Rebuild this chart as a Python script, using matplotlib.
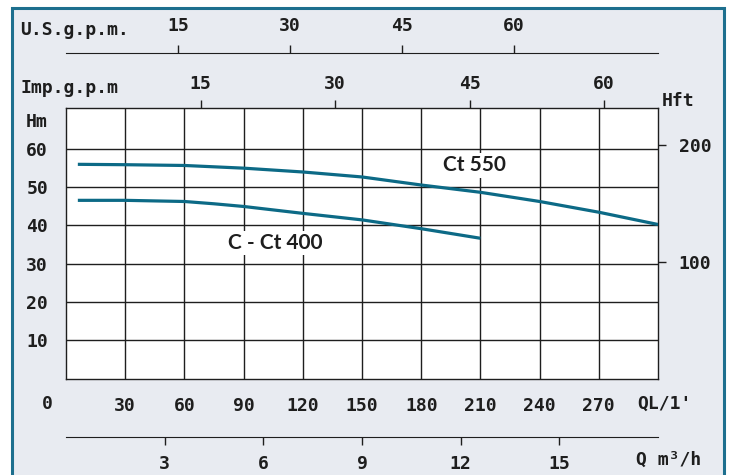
import matplotlib
matplotlib.use('Agg')
import matplotlib.pyplot as plt
from matplotlib.patches import Rectangle

# pump curves, Q in L/min, H in m
q_550 = [6, 30, 60, 90, 120, 150, 180, 210, 240, 270, 300]
h_550 = [55.9, 55.8, 55.6, 54.9, 53.9, 52.6, 50.5, 48.6, 46.2, 43.4, 40.2]
q_400 = [6, 30, 60, 75, 90, 120, 150, 180, 210]
h_400 = [46.5, 46.5, 46.2, 45.6, 44.9, 43.1, 41.4, 39.1, 36.6]

q_ticks = [30, 60, 90, 120, 150, 180, 210, 240, 270]
h_ticks = [10, 20, 30, 40, 50, 60]
usgpm_ticks = [15, 30, 45, 60]
impgpm_ticks = [15, 30, 45, 60]
m3h_ticks = [3, 6, 9, 12, 15]
hft_ticks = [100, 200]

W, H = 734, 475
mono = 'DejaVu Sans Mono'
ink = '#1e1e1e'
curve_col = '#0c6a86'
fs = 13
plt.rcParams['font.family'] = mono
plt.rcParams['font.weight'] = 'bold'

fig = plt.figure(figsize=(W / 100, H / 100), dpi=100, facecolor='white')
frame = Rectangle((12 / W, -0.05), 712 / W, 1.05 - 8 / H, transform=fig.transFigure,
                  facecolor='#e8ebf1', edgecolor='#1d6f8e', lw=2.2, zorder=-5)
fig.add_artist(frame)

def px(x, y):
    return x / W, 1 - y / H

l, t, r, b = 66, 108, 658, 378.5
ax = fig.add_axes([l / W, 1 - b / H, (r - l) / W, (b - t) / H])
ax.set_facecolor('white')
ax.set_xlim(0, 300)
ax.set_ylim(0, 70.6)

ax.plot(q_550, h_550, color=curve_col, lw=2.3, solid_capstyle='butt', zorder=3)
ax.plot(q_400, h_400, color=curve_col, lw=2.3, solid_capstyle='butt', zorder=3)
box = dict(facecolor='white', edgecolor='none', pad=1.5)
ax.text(207, 55.6, 'Ct 550', family='Lato', weight='bold', fontsize=15, color=ink,
        ha='center', va='center', bbox=box, zorder=4)
ax.text(106, 35.3, 'C - Ct 400', family='Lato', weight='bold', fontsize=15, color=ink,
        ha='center', va='center', bbox=box, zorder=4)

for q in range(30, 300, 30):
    ax.axvline(q, color=ink, lw=1.0, zorder=1)
for h in range(10, 70, 10):
    ax.axhline(h, color=ink, lw=1.0, zorder=1)
for s in ax.spines.values():
    s.set_color(ink)
    s.set_linewidth(1.0)

ax.set_xticks(q_ticks, labels=[str(v) for v in q_ticks])
ax.set_yticks(h_ticks, labels=[str(v) for v in h_ticks])
ax.tick_params(axis='x', length=0, pad=13, labelsize=fs, colors=ink)
ax.tick_params(axis='y', length=0, pad=13, labelsize=fs, colors=ink)

def sec_style(sa, ticks, pad):
    sa.set_ticks(ticks, labels=[str(v) for v in ticks])
    sa.tick_params(length=6, width=1.0, pad=pad, labelsize=fs, colors=ink)

# Imp. g.p.m. on top spine
imp = ax.secondary_xaxis('top', functions=(lambda q: q / 4.546, lambda g: g * 4.546))
sec_style(imp, impgpm_ticks, 5)
imp.spines['top'].set_visible(False)

# U.S. g.p.m. above
us_loc = (b - 53) / (b - t)
us = ax.secondary_xaxis(us_loc, functions=(lambda q: q / 3.785, lambda g: g * 3.785))
sec_style(us, usgpm_ticks, 7)
us.spines['top'].set_color(ink)

# m3/h below
m3_loc = (b - 437) / (b - t)
m3 = ax.secondary_xaxis(m3_loc, functions=(lambda q: q * 0.06, lambda v: v / 0.06))
sec_style(m3, m3h_ticks, 7)
m3.spines['bottom'].set_color(ink)

# feet on the right
ft = ax.secondary_yaxis('right', functions=(lambda m: m * 3.2808, lambda f: f / 3.2808))
sec_style(ft, hft_ticks, 9)
ft.spines['right'].set_visible(False)

lab_kw = dict(fontsize=fs, color=ink, va='center')
fig.text(*px(20, 30), 'U.S.g.p.m.', ha='left', **lab_kw)
fig.text(*px(20, 88), 'Imp.g.p.m', ha='left', **lab_kw)
fig.text(*px(48, 122), 'Hm', ha='right', **lab_kw)
fig.text(*px(662, 101), 'Hft', ha='left', **lab_kw)
fig.text(*px(47, 404), '0', ha='center', **lab_kw)
fig.text(*px(637, 404), "QL/1'", ha='left', **lab_kw)
fig.text(*px(636, 460), 'Q m³/h', ha='left', **lab_kw)

fig.savefig('out.png', dpi=100, facecolor='white')
